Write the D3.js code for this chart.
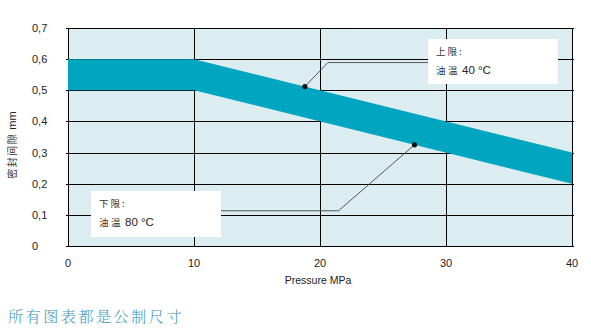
<!DOCTYPE html>
<html>
<head>
<meta charset="utf-8">
<script src="https://cdn.jsdelivr.net/npm/d3@7/dist/d3.min.js"></script>
<style>
  html, body { margin: 0; padding: 0; background: #fff; }
  svg { display: block; }
</style>
</head>
<body>
<svg id="chart" width="591" height="332"></svg>
<script>
// Seal gap band vs. pressure
const pressure = [0, 10, 40];
const gapUpper = [0.6, 0.6, 0.3];   // 40 °C oil
const gapLower = [0.5, 0.5, 0.2];   // 80 °C oil

const xTicks = [0, 10, 20, 30, 40];
const yTicks = [0, 0.1, 0.2, 0.3, 0.4, 0.5, 0.6, 0.7];
const yTickLabels = ["0", "0,1", "0,2", "0,3", "0,4", "0,5", "0,6", "0,7"];

// Callout markers: [pressure, gap]
const upperMark = [18.8, 0.512];
const lowerMark = [27.5, 0.325];
const upperLabel = ["上限:", "油温", "40 °C"];
const lowerLabel = ["下限:", "油温", "80 °C"];

const xTitle = "Pressure MPa";
const yTitleCn = "密封间隙";
const yTitleUnit = "mm";
const caption = "所有图表都是公制尺寸";

const svg = d3.select("#chart");
const x = d3.scaleLinear().domain([0, 40]).range([68, 572]);
const y = d3.scaleLinear().domain([0, 0.7]).range([246, 28]);

const sans = "'Liberation Sans', Arial, sans-serif";
const cjk = "'Noto Sans CJK SC', sans-serif";

// plot background
svg.append("rect")
  .attr("x", x(0)).attr("y", y(0.7))
  .attr("width", x(40) - x(0)).attr("height", y(0) - y(0.7))
  .attr("fill", "#dcedf2");

// grid
const grid = svg.append("g").attr("stroke", "#000").attr("stroke-width", 1).attr("shape-rendering", "crispEdges");
grid.selectAll("line.h").data(yTicks).join("line")
  .attr("x1", x(0) - 2).attr("x2", x(40) + 2)
  .attr("y1", d => Math.round(y(d)) + 0.5).attr("y2", d => Math.round(y(d)) + 0.5);
grid.selectAll("line.v").data(xTicks).join("line")
  .attr("y1", y(0.7)).attr("y2", y(0) + 1)
  .attr("x1", d => Math.round(x(d)) + 0.5).attr("x2", d => Math.round(x(d)) + 0.5);

// band
const rows = pressure.map((p, i) => ({ p, hi: gapUpper[i], lo: gapLower[i] }));
svg.append("path")
  .datum(rows)
  .attr("fill", "#00a6bf")
  .attr("d", d3.area().x(d => x(d.p)).y0(d => y(d.lo)).y1(d => y(d.hi)));

// y tick labels
svg.append("g").selectAll("text").data(yTicks).join("text")
  .attr("x", 32).attr("y", d => y(d) + 4)
  .attr("font-family", sans).attr("font-size", 11).attr("fill", "#222")
  .text((d, i) => yTickLabels[i]);

// x tick labels
svg.append("g").selectAll("text").data(xTicks).join("text")
  .attr("x", d => x(d)).attr("y", 267)
  .attr("text-anchor", "middle")
  .attr("font-family", sans).attr("font-size", 11).attr("fill", "#222")
  .text(d => d);

svg.append("text")
  .attr("x", 318).attr("y", 284).attr("text-anchor", "middle")
  .attr("font-family", sans).attr("font-size", 10.5).attr("fill", "#222")
  .text(xTitle);

const yt = svg.append("text")
  .attr("transform", "translate(16,145) rotate(-90)")
  .attr("text-anchor", "middle")
  .attr("font-family", cjk).attr("font-size", 10).attr("fill", "#333");
yt.append("tspan").attr("letter-spacing", 1.5).text(yTitleCn);
yt.append("tspan").attr("dx", 3).attr("font-family", sans).attr("font-size", 11).attr("fill", "#222").text(yTitleUnit);

// callouts
function callout(mark, elbow, endX, box, lines) {
  const px = x(mark[0]), py = y(mark[1]);
  svg.append("rect")
    .attr("x", box[0]).attr("y", box[1]).attr("width", box[2]).attr("height", box[3])
    .attr("fill", "#fff");
  svg.append("path")
    .attr("d", d3.line()([[px, py], [px + elbow[0], py + elbow[1]], [endX, py + elbow[1]]]))
    .attr("fill", "none").attr("stroke", "#444").attr("stroke-width", 0.9);
  svg.append("circle").attr("cx", px).attr("cy", py).attr("r", 2.6).attr("fill", "#111");
  const tx = box[0] + 8;
  svg.append("text")
    .attr("x", tx).attr("y", box[1] + 16)
    .attr("font-family", cjk).attr("font-size", 9.5).attr("fill", "#333")
    .attr("letter-spacing", 2)
    .text(lines[0]);
  const t = svg.append("text")
    .attr("x", tx).attr("y", box[1] + 35)
    .attr("font-family", cjk).attr("font-size", 9.5).attr("fill", "#333");
  t.append("tspan").attr("letter-spacing", 2.5).text(lines[1]);
  t.append("tspan").attr("dx", 2).attr("font-family", sans).attr("font-size", 11.5).attr("fill", "#222").text(lines[2]);
}

callout(upperMark, [23, -24], 428, [428, 39, 130, 45], upperLabel);
callout(lowerMark, [-76, 66], 221, [91, 191, 130, 46], lowerLabel);

// caption
svg.append("text")
  .attr("x", 8).attr("y", 322)
  .attr("font-family", "'Noto Serif CJK SC', 'Noto Sans CJK SC', serif")
  .attr("font-size", 15).attr("font-weight", 300)
  .attr("letter-spacing", 2.6)
  .attr("fill", "#3f98bd")
  .text(caption);
</script>
</body>
</html>
